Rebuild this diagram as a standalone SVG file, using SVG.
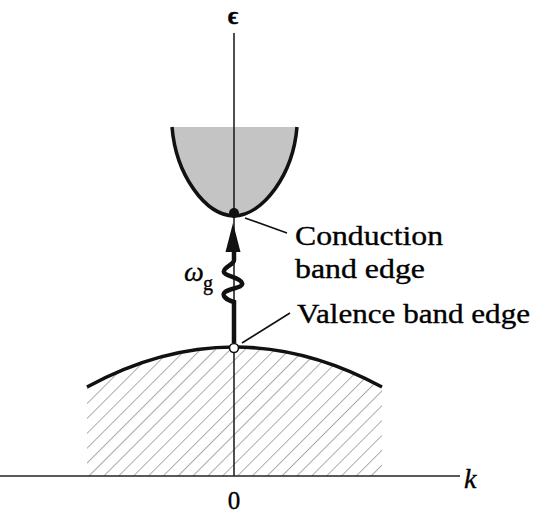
<svg xmlns="http://www.w3.org/2000/svg" width="535" height="515" viewBox="0 0 535 515">
<defs>
<style>
.lbl{font-family:"Liberation Serif","Times New Roman",serif;fill:#000;stroke:#000;stroke-width:0.35}
.it{font-style:italic}
.axis{stroke:#222;stroke-width:1.6;fill:none}
.band{stroke:#111;stroke-width:3.5;fill:none}
.lead{stroke:#111;stroke-width:1.6;fill:none}
</style>
<pattern id="hatch" patternUnits="userSpaceOnUse" width="10.5" height="10.5" patternTransform="rotate(45)">
<line x1="0" y1="0" x2="0" y2="10.5" stroke="#444" stroke-width="1.1"/>
</pattern>
</defs>
<rect width="535" height="515" fill="#fff"/>
<g id="valence-band">
<path d="M87,387 Q234,307 382,387 L382,476 L87,476 Z" fill="url(#hatch)" opacity="0.8"/>
<path class="band" d="M87,387 Q234,307 382,387"/>
</g>
<g id="conduction-band">
<path d="M172,127 C176,175 205,215 234,216 C263,215 293,175 297,127 Z" fill="#c4c4c4"/>
<path class="band" d="M172,127 C176,175 205,215 234,216 C263,215 293,175 297,127"/>
</g>
<g id="axes">
<line class="axis" x1="234" y1="33" x2="234" y2="476"/>
<line class="axis" x1="0" y1="476" x2="460" y2="476"/>
<text class="lbl" x="233" y="24" font-size="25" font-weight="bold" text-anchor="middle" font-family="DejaVu Serif">ϵ</text>
<text class="lbl it" x="464" y="488" font-size="28">k</text>
<text class="lbl" x="234" y="509" font-size="25" text-anchor="middle">0</text>
</g>
<g id="connectors">
<path d="M234,343 V302 C226,300 221,295 225,292 C230,288 244,288 242,283 C240,277 222,276 224,271 C225,266 234,265 234,260 V248" stroke="#111" stroke-width="4.5" fill="none"/>
<polygon points="233,223 225.5,252 240.5,252" fill="#111"/>
<line class="lead" x1="245" y1="218" x2="287" y2="233"/>
<line class="lead" x1="290" y1="313" x2="242" y2="343"/>
</g>
<g id="conduction-edge">
<circle cx="234" cy="213" r="5" fill="#111"/>
<text class="lbl" x="295" y="245" font-size="28" textLength="148" lengthAdjust="spacingAndGlyphs">Conduction</text>
<text class="lbl" x="295" y="278" font-size="28" textLength="130" lengthAdjust="spacingAndGlyphs">band edge</text>
</g>
<g id="valence-edge">
<circle cx="234" cy="348" r="4.5" fill="#fff" stroke="#111" stroke-width="1.6"/>
<text class="lbl" x="297" y="323" font-size="28" textLength="233" lengthAdjust="spacingAndGlyphs">Valence band edge</text>
</g>
<g id="gap-label">
<text class="lbl it" x="184" y="281" font-size="28">ω</text>
<text class="lbl" x="203" y="290" font-size="20">g</text>
</g>
</svg>
